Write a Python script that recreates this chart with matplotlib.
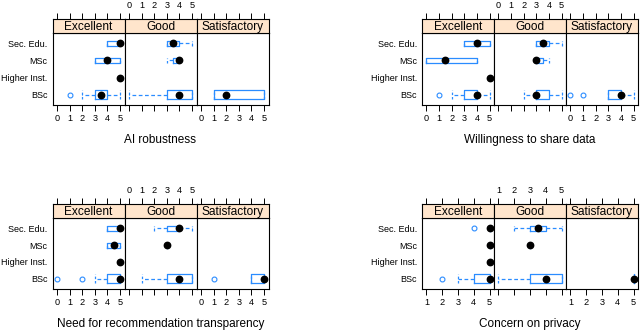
import matplotlib
matplotlib.use("Agg")
import matplotlib.pyplot as plt

plt.rcParams["font.family"] = ["Liberation Sans", "DejaVu Sans"]

GROUPS = ["Excellent", "Good", "Satisfactory"]
CATS = ["BSc", "Higher Inst.", "MSc", "Sec. Edu."]

# rows: (group, category, q1, median, q3, whisker low, whisker high, outliers)
robustness = [
    ("Excellent", "Sec. Edu.", 4, 5, 5, 4, 5, []),
    ("Excellent", "MSc", 3, 4, 5, 3, 5, []),
    ("Excellent", "Higher Inst.", 5, 5, 5, 5, 5, []),
    ("Excellent", "BSc", 3, 3.5, 4, 2, 5, [1]),
    ("Good", "Sec. Edu.", 3, 3.5, 4, 3, 5, []),
    ("Good", "MSc", 3.5, 4, 4, 3, 4, []),
    ("Good", "BSc", 3, 4, 5, 0, 5, []),
    ("Satisfactory", "BSc", 1, 2, 5, 1, 5, []),
]
sharing = [
    ("Excellent", "Sec. Edu.", 3, 4, 5, 3, 5, []),
    ("Excellent", "MSc", 0, 1.5, 4, 0, 4, []),
    ("Excellent", "Higher Inst.", 5, 5, 5, 5, 5, []),
    ("Excellent", "BSc", 3, 4, 4, 2, 5, [1]),
    ("Good", "Sec. Edu.", 3, 3.5, 4, 3, 5, []),
    ("Good", "MSc", 3, 3, 3.5, 3, 4, []),
    ("Good", "BSc", 3, 3, 4, 2, 5, []),
    ("Satisfactory", "BSc", 3, 4, 4, 3, 5, [0, 1]),
]
transparency = [
    ("Excellent", "Sec. Edu.", 4, 5, 5, 4, 5, []),
    ("Excellent", "MSc", 4, 4.5, 5, 4, 5, []),
    ("Excellent", "Higher Inst.", 5, 5, 5, 5, 5, []),
    ("Excellent", "BSc", 4, 5, 5, 3, 5, [0, 2]),
    ("Good", "Sec. Edu.", 3, 4, 4, 2, 5, []),
    ("Good", "MSc", 3, 3, 3, 3, 3, []),
    ("Good", "BSc", 3, 4, 5, 1, 5, []),
    ("Satisfactory", "BSc", 4, 5, 5, 4, 5, [1]),
]
privacy = [
    ("Excellent", "Sec. Edu.", 5, 5, 5, 5, 5, [4]),
    ("Excellent", "MSc", 5, 5, 5, 5, 5, []),
    ("Excellent", "Higher Inst.", 5, 5, 5, 5, 5, []),
    ("Excellent", "BSc", 4, 5, 5, 3, 5, [2]),
    ("Good", "Sec. Edu.", 3, 3.5, 4, 2, 5, []),
    ("Good", "MSc", 3, 3, 3, 3, 3, []),
    ("Good", "BSc", 3, 4, 5, 1, 5, []),
    ("Satisfactory", "BSc", 5, 5, 5, 5, 5, []),
]

BLUE = "#2a8cff"
STRIP = "#ffe5cc"
W, H = 640, 332
BOXH = {"BSc": 0.52}   # varwidth-like: BSc boxes are taller


def px(x, y, w, h):
    return [x / W, 1 - (y + h) / H, w / W, h / H]


def chart(fig, x0, ys, yt, yb, rows, xlabel, lo, hi):
    pad = (hi - lo) * 0.07
    pw = 72
    for gi, g in enumerate(GROUPS):
        left = x0 + gi * pw
        ax = fig.add_axes(px(left, yt, pw, yb - yt))
        sax = fig.add_axes(px(left, ys, pw, yt - ys))
        sub = [r for r in rows if r[0] == g]
        stats, pos, wid = [], [], []
        for r in sub:
            stats.append(dict(q1=r[2], med=r[3], q3=r[4], whislo=r[5],
                              whishi=r[6], fliers=r[7]))
            pos.append(CATS.index(r[1]) + 1)
            wid.append(BOXH.get(r[1], 0.3))
        if stats:
            ax.bxp(stats, positions=pos, widths=wid, capwidths=wid,
                   orientation="horizontal", showfliers=True,
                   boxprops=dict(color=BLUE, lw=0.9),
                   whiskerprops=dict(color=BLUE, lw=0.9, ls=(0, (3, 2))),
                   capprops=dict(color=BLUE, lw=0.9, ls=(0, (2, 1.5))),
                   medianprops=dict(lw=0),
                   flierprops=dict(marker="o", mfc="none", mec=BLUE,
                                   ms=3.5, mew=0.8))
            ax.plot([s["med"] for s in stats], pos, "o", color="black",
                    ms=4.6, zorder=5)
        ax.set_xlim(lo - pad, hi + pad)
        ax.set_ylim(0.4, 4.6)
        sax.set_xlim(lo - pad, hi + pad)
        sax.set_ylim(0, 1)
        ticks = list(range(int(lo), int(hi) + 1))
        for a in (ax, sax):
            for sp in a.spines.values():
                sp.set_linewidth(0.8)
        ax.set_xticks(ticks)
        ax.tick_params(axis="x", direction="out", length=4, width=0.7,
                       labelsize=6.6, pad=2.5)
        if gi == 1:
            ax.set_xticklabels([])
        ax.set_yticks(range(1, 5))
        if gi == 0:
            ax.set_yticklabels(CATS)
            ax.tick_params(axis="y", length=0, labelsize=6.5, pad=3.6)
        else:
            ax.set_yticklabels([])
            ax.tick_params(axis="y", length=0)
        sax.set_facecolor(STRIP)
        sax.set_yticks([])
        sax.set_xticks(ticks)
        sax.xaxis.tick_top()
        sax.tick_params(axis="x", direction="out", length=4, width=0.7,
                        labelsize=6.6, pad=2.5)
        if gi != 1:
            sax.set_xticklabels([])
        sax.text(0.5, 0.45, g, transform=sax.transAxes, ha="center",
                 va="center", fontsize=8.6)
    fig.text((x0 + 1.5 * pw) / W, 1 - (yb + 35) / H, xlabel, ha="center",
             va="center", fontsize=8.5)


fig = plt.figure(figsize=(6.4, 3.32), dpi=100)
chart(fig, 52.5, 19, 33, 105, robustness, "AI robustness", 0, 5)
chart(fig, 422, 19, 33, 105, sharing, "Willingness to share data", 0, 5)
chart(fig, 52.5, 204, 218, 289, transparency,
      "Need for recommendation transparency", 0, 5)
chart(fig, 422, 204, 218, 289, privacy, "Concern on privacy", 1, 5)
fig.savefig("out.png", dpi=100)
